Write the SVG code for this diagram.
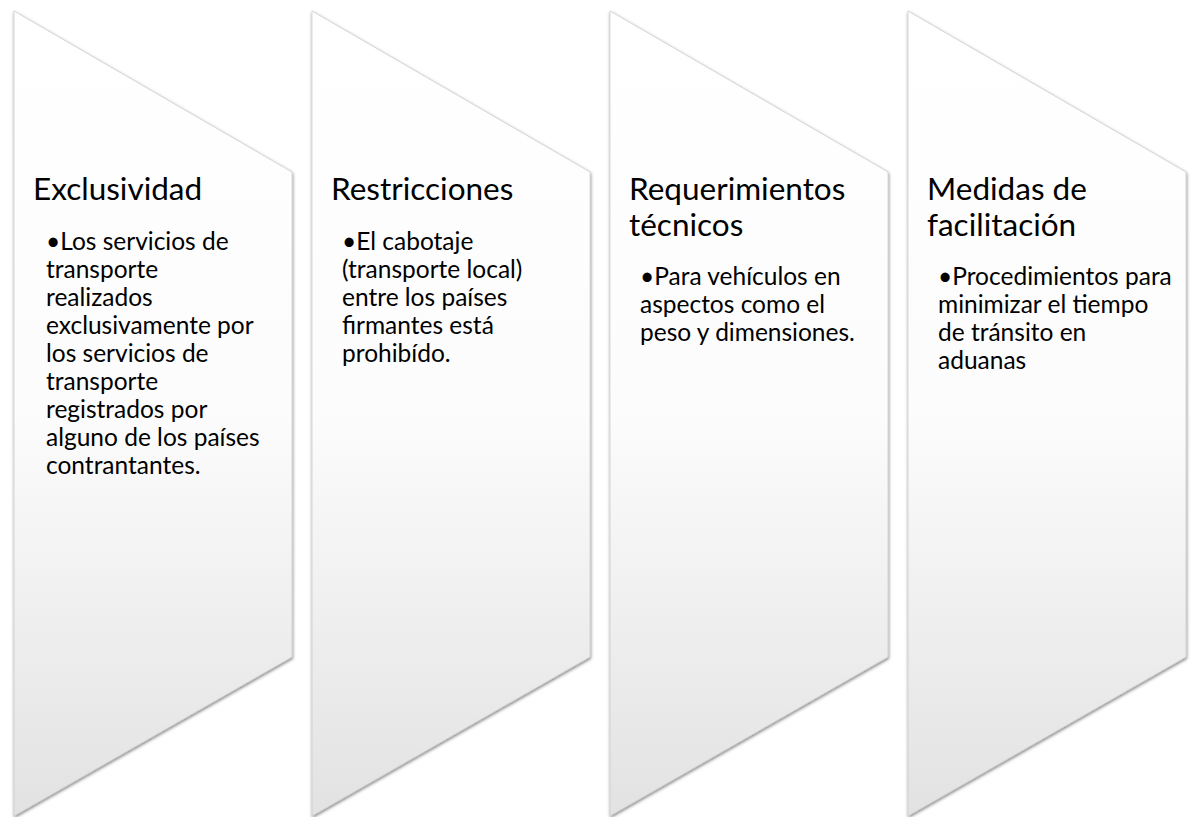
<svg xmlns="http://www.w3.org/2000/svg" width="1191" height="817" viewBox="0 0 1191 817">
<defs>
<linearGradient id="fillG" gradientUnits="userSpaceOnUse" x1="0" y1="11" x2="0" y2="816">
<stop offset="0" stop-color="#ffffff"/>
<stop offset="0.5" stop-color="#fcfcfc"/>
<stop offset="1" stop-color="#e2e2e2"/>
</linearGradient>
<filter id="sh" x="-10%" y="-5%" width="120%" height="110%">
<feDropShadow dx="0.5" dy="1.5" stdDeviation="1.6" flood-color="#000" flood-opacity="0.5"/>
</filter>
<polygon id="chev" points="0,11 278,172 278,657 0,816"/>
</defs>
<style>
.shape{fill:url(#fillG);stroke:#c8c8c8;stroke-width:0.7;filter:url(#sh)}
.title{font-family:Lato,"Open Sans",sans-serif;font-size:31.5px;fill:#000}
.body{font-family:Lato,"Open Sans",sans-serif;font-size:24.5px;fill:#000}
</style>
<rect width="1191" height="817" fill="#fff"/>
<g id="node1">
<use href="#chev" x="14" class="shape"/>
<text class="title" x="33" y="200">Exclusividad</text>
<text class="body"><tspan x="46" y="250">•Los servicios de</tspan><tspan x="46" y="278">transporte</tspan><tspan x="46" y="306">realizados</tspan><tspan x="46" y="334">exclusivamente por</tspan><tspan x="46" y="362">los servicios de</tspan><tspan x="46" y="390">transporte</tspan><tspan x="46" y="418">registrados por</tspan><tspan x="46" y="446">alguno de los países</tspan><tspan x="46" y="474">contrantantes.</tspan></text>
</g>
<g id="node2">
<use href="#chev" x="312" class="shape"/>
<text class="title" x="331" y="200">Restricciones</text>
<text class="body"><tspan x="342" y="250">•El cabotaje</tspan><tspan x="342" y="278">(transporte local)</tspan><tspan x="342" y="306">entre los países</tspan><tspan x="342" y="334">firmantes está</tspan><tspan x="342" y="362">prohibído.</tspan></text>
</g>
<g id="node3">
<use href="#chev" x="610" class="shape"/>
<text class="title"><tspan x="629" y="200">Requerimientos</tspan><tspan x="629" y="236">técnicos</tspan></text>
<text class="body"><tspan x="640" y="285">•Para vehículos en</tspan><tspan x="640" y="313">aspectos como el</tspan><tspan x="640" y="341">peso y dimensiones.</tspan></text>
</g>
<g id="node4">
<use href="#chev" x="908" class="shape"/>
<text class="title"><tspan x="927" y="200">Medidas de</tspan><tspan x="927" y="236">facilitación</tspan></text>
<text class="body"><tspan x="938" y="285">•Procedimientos para</tspan><tspan x="938" y="313">minimizar el tiempo</tspan><tspan x="938" y="341">de tránsito en</tspan><tspan x="938" y="369">aduanas</tspan></text>
</g>
<g id="connectors"/>
</svg>
